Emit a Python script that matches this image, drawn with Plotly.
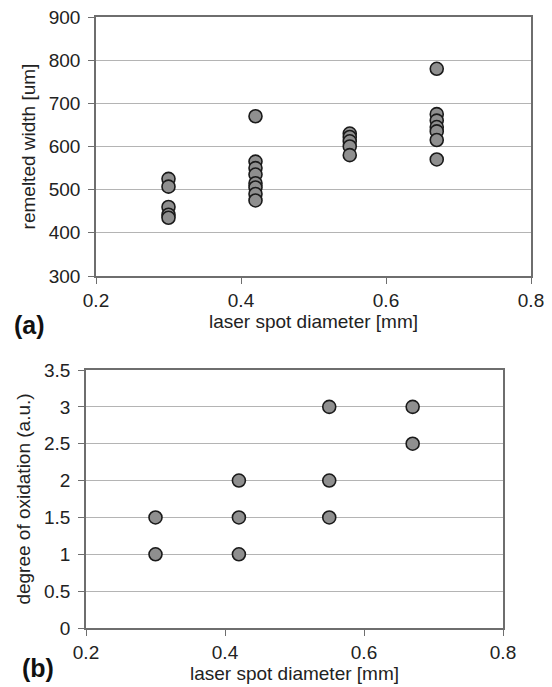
import plotly.graph_objects as go

# Panel (a): remelted width vs laser spot diameter
spot_a = [0.30]*5 + [0.42]*8 + [0.55]*5 + [0.67]*7
width_um = [525, 507, 460, 442, 435,
            670, 565, 550, 535, 515, 505, 490, 475,
            630, 622, 612, 600, 580,
            780, 675, 660, 645, 635, 615, 570]

# Panel (b): degree of oxidation vs laser spot diameter
spot_b = [0.30, 0.30, 0.42, 0.42, 0.42, 0.55, 0.55, 0.55, 0.67, 0.67]
oxidation = [1.5, 1.0, 2.0, 1.5, 1.0, 3.0, 2.0, 1.5, 3.0, 2.5]

x_ticks = [0.2, 0.4, 0.6, 0.8]
ya_ticks = [300, 400, 500, 600, 700, 800, 900]
yb_ticks = [0, 0.5, 1, 1.5, 2, 2.5, 3, 3.5]

W, H = 552, 687
OFF = 8  # page body margin
FONT = "Liberation Sans, Arial, sans-serif"
marker = dict(size=13, color="#8f8f8f", line=dict(color="#1a1a1a", width=1.6))

def fx(px):
    return (px - OFF) / W

def fy(py):
    return 1 - (py - OFF) / H

fig = go.Figure()
fig.add_trace(go.Scatter(x=spot_a, y=width_um, mode="markers", marker=marker,
                         xaxis="x", yaxis="y", showlegend=False))
fig.add_trace(go.Scatter(x=spot_b, y=oxidation, mode="markers", marker=marker,
                         xaxis="x2", yaxis="y2", showlegend=False))

def xax(domain, anchor, title):
    return dict(domain=domain, anchor=anchor, range=[0.2, 0.8], tickvals=x_ticks,
                ticktext=[f"{v:g}" for v in x_ticks], showgrid=False, zeroline=False,
                showline=True, linecolor="#6e6e6e", linewidth=1.5, mirror=True,
                ticks="outside", ticklen=6, tickcolor="#6e6e6e", automargin=False,
                ticklabeloverflow="allow",
                tickfont=dict(size=19, color="#222"),
                title=dict(text=title, standoff=4, font=dict(size=19, color="#222")))

def yax(domain, anchor, rng, ticks, title):
    return dict(domain=domain, anchor=anchor, range=rng, tickvals=ticks,
                ticktext=[f"{v:g}" for v in ticks], showgrid=True, gridcolor="#b4b4b4",
                gridwidth=1.2, zeroline=False, showline=True, linecolor="#6e6e6e",
                linewidth=1.5, mirror=True, ticks="outside", ticklen=6, tickcolor="#6e6e6e",
                automargin=False, ticklabeloverflow="allow", ticklabelstandoff=4,
                tickfont=dict(size=19, color="#222"),
                title=dict(text=title, standoff=8, font=dict(size=19, color="#222")))

fig.update_layout(
    width=W, height=H, margin=dict(l=0, r=0, t=0, b=0),
    paper_bgcolor="white", plot_bgcolor="white",
    font=dict(family=FONT, color="#222"),
    xaxis=xax([fx(96), fx(531)], "y", "laser spot diameter [mm]"),
    yaxis=yax([fy(276), fy(17)], "x", [300, 900], ya_ticks, "remelted width [um]"),
    xaxis2=xax([fx(86), fx(503)], "y2", "laser spot diameter [mm]"),
    yaxis2=yax([fy(628), fy(370)], "x2", [0, 3.5], yb_ticks, "degree of oxidation (a.u.)"),
    annotations=[
        dict(text="<b>(a)</b>", x=fx(12), y=fy(325), xref="paper", yref="paper",
             xanchor="left", yanchor="middle", showarrow=False, font=dict(size=25, color="#111")),
        dict(text="<b>(b)</b>", x=fx(20), y=fy(668), xref="paper", yref="paper",
             xanchor="left", yanchor="middle", showarrow=False, font=dict(size=25, color="#111")),
    ],
)

fig.write_html("out.html")
